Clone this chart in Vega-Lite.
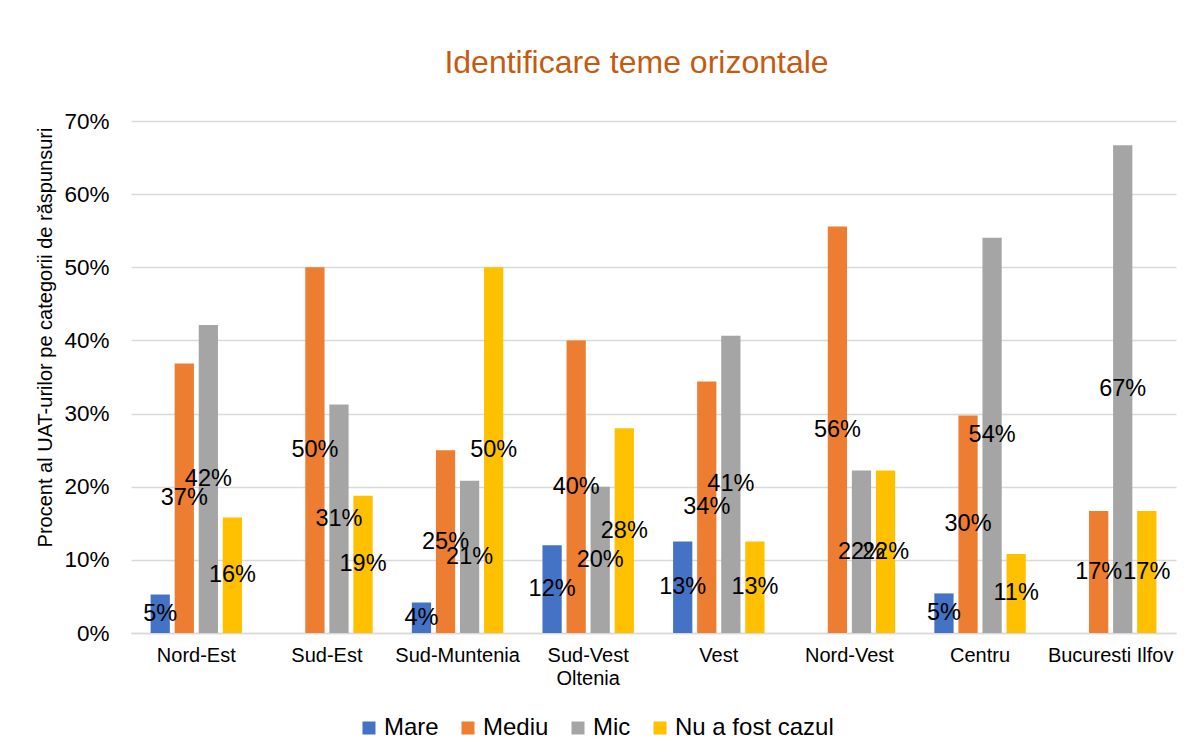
{
  "$schema": "https://vega.github.io/schema/vega-lite/v6.json",
  "width": 1045,
  "height": 512,
  "autosize": {"type": "none"},
  "padding": {"left": 131, "top": 121, "right": 12, "bottom": 116},
  "background": "white",
  "title": {
    "text": "Identificare teme orizontale",
    "font": "Liberation Sans",
    "fontSize": 32,
    "fontWeight": "normal",
    "color": "#C55A11",
    "anchor": "middle",
    "dx": -17,
    "offset": 30
  },
  "config": {
    "font": "Liberation Sans",
    "view": {"stroke": null},
    "axis": {"labelFont": "Liberation Sans", "titleFont": "Liberation Sans", "labelColor": "#000000", "titleColor": "#000000"}
  },
  "data": {
    "values": [
      {"region": "Nord-Est", "series": "Mare", "v": 0.0526},
      {"region": "Nord-Est", "series": "Mediu", "v": 0.3684},
      {"region": "Nord-Est", "series": "Mic", "v": 0.4211},
      {"region": "Nord-Est", "series": "Nu a fost cazul", "v": 0.1579},
      {"region": "Sud-Est", "series": "Mare", "v": 0},
      {"region": "Sud-Est", "series": "Mediu", "v": 0.5},
      {"region": "Sud-Est", "series": "Mic", "v": 0.3125},
      {"region": "Sud-Est", "series": "Nu a fost cazul", "v": 0.1875},
      {"region": "Sud-Muntenia", "series": "Mare", "v": 0.0417},
      {"region": "Sud-Muntenia", "series": "Mediu", "v": 0.25},
      {"region": "Sud-Muntenia", "series": "Mic", "v": 0.2083},
      {"region": "Sud-Muntenia", "series": "Nu a fost cazul", "v": 0.5},
      {"region": "Sud-Vest Oltenia", "series": "Mare", "v": 0.12},
      {"region": "Sud-Vest Oltenia", "series": "Mediu", "v": 0.4},
      {"region": "Sud-Vest Oltenia", "series": "Mic", "v": 0.2},
      {"region": "Sud-Vest Oltenia", "series": "Nu a fost cazul", "v": 0.28},
      {"region": "Vest", "series": "Mare", "v": 0.125},
      {"region": "Vest", "series": "Mediu", "v": 0.3438},
      {"region": "Vest", "series": "Mic", "v": 0.4063},
      {"region": "Vest", "series": "Nu a fost cazul", "v": 0.125},
      {"region": "Nord-Vest", "series": "Mare", "v": 0},
      {"region": "Nord-Vest", "series": "Mediu", "v": 0.5556},
      {"region": "Nord-Vest", "series": "Mic", "v": 0.2222},
      {"region": "Nord-Vest", "series": "Nu a fost cazul", "v": 0.2222},
      {"region": "Centru", "series": "Mare", "v": 0.0541},
      {"region": "Centru", "series": "Mediu", "v": 0.2973},
      {"region": "Centru", "series": "Mic", "v": 0.5405},
      {"region": "Centru", "series": "Nu a fost cazul", "v": 0.1081},
      {"region": "Bucuresti Ilfov", "series": "Mare", "v": 0},
      {"region": "Bucuresti Ilfov", "series": "Mediu", "v": 0.1667},
      {"region": "Bucuresti Ilfov", "series": "Mic", "v": 0.6667},
      {"region": "Bucuresti Ilfov", "series": "Nu a fost cazul", "v": 0.1667}
    ]
  },
  "encoding": {
    "x": {
      "field": "region",
      "type": "nominal",
      "sort": null,
      "scale": {"paddingInner": 0.3, "paddingOuter": 0.15},
      "axis": {
        "title": null,
        "labelAngle": 0,
        "labelFontSize": 20,
        "labelPadding": 12,
        "ticks": false,
        "tickSize": 0,
        "domainColor": "#D9D9D9",
        "domainWidth": 1.5,
        "labelLineHeight": 23,
        "labelExpr": "datum.value == 'Sud-Vest Oltenia' ? ['Sud-Vest', 'Oltenia'] : datum.value"
      }
    },
    "xOffset": {
      "field": "series",
      "type": "nominal",
      "sort": ["Mare", "Mediu", "Mic", "Nu a fost cazul"],
      "scale": {"paddingInner": 0.2, "paddingOuter": 0}
    }
  },
  "layer": [
    {
      "mark": {"type": "bar"},
      "encoding": {
        "y": {
          "field": "v",
          "type": "quantitative",
          "scale": {"domain": [0, 0.7], "nice": false},
          "axis": {
            "title": "Procent al UAT-urilor pe categorii de răspunsuri",
            "titleFontSize": 20,
            "titleFontWeight": "normal",
            "titleAngle": -90,
            "titleAlign": "center",
            "titleBaseline": "middle",
            "titleX": -86,
            "titleY": 216,
            "format": ".0%",
            "values": [0, 0.1, 0.2, 0.3, 0.4, 0.5, 0.6, 0.7],
            "labelFontSize": 22.5,
            "labelPadding": 22,
            "ticks": false,
            "tickSize": 0,
            "domain": false,
            "gridColor": "#D9D9D9",
            "gridWidth": 1.5
          }
        },
        "color": {
          "field": "series",
          "type": "nominal",
          "sort": ["Mare", "Mediu", "Mic", "Nu a fost cazul"],
          "scale": {
            "domain": ["Mare", "Mediu", "Mic", "Nu a fost cazul"],
            "range": ["#4472C4", "#ED7D31", "#A5A5A5", "#FFC000"]
          },
          "legend": {
            "title": null,
            "orient": "none",
            "direction": "horizontal",
            "legendX": 226,
            "legendY": 595,
            "symbolType": "square",
            "symbolSize": 169,
            "symbolStrokeWidth": 0,
            "labelFontSize": 24,
            "labelFont": "Liberation Sans",
            "labelColor": "#000000",
            "labelOffset": 3,
            "columnPadding": 17
          }
        }
      }
    },
    {
      "transform": [{"filter": "datum.v > 0"}],
      "mark": {"type": "text", "fontSize": 23.5, "color": "#000000", "baseline": "middle", "align": "center"},
      "encoding": {
        "y": {
          "field": "v",
          "type": "quantitative",
          "scale": {"domain": [0, 1.4], "nice": false},
          "axis": null
        },
        "text": {"field": "v", "type": "quantitative", "format": ".0%"}
      }
    }
  ],
  "resolve": {"scale": {"y": "independent"}}
}
